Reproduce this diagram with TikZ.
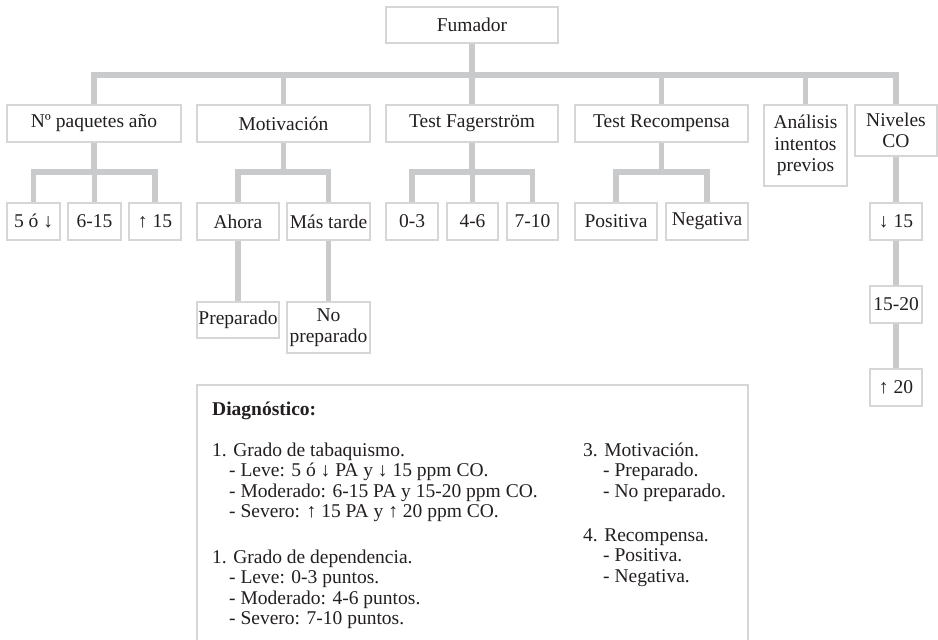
\documentclass[tikz,border=0pt]{standalone}
\usepackage{fontspec}
\setmainfont{Liberation Serif}
\definecolor{ink}{HTML}{231F20}
\definecolor{connline}{HTML}{C9CACB}
\definecolor{boxline}{HTML}{D6D6D6}
\newcommand\lblfont{\fontsize{19.5}{21.5}\selectfont}
\newcommand\diagfont{\fontsize{19.5}{20.5}\selectfont}
\pgfdeclarelayer{bg}
\pgfsetlayers{bg,main}
\tikzset{
  lbl/.style={draw=boxline, line width=1.2pt, fill=white, inner sep=0pt,
    align=center, font=\lblfont, text=ink},
  conn/.style={draw=connline, line width=5.5pt},
  dtext/.style={anchor=base west, inner sep=0pt, font=\diagfont, text=ink},
}
\begin{document}
\begin{tikzpicture}[x=1pt,y=-1pt]
\useasboundingbox (0,0) rectangle (938,640);

% root
\node[lbl, minimum width=172pt, minimum height=36pt] (fum) at (472,25) {Fumador};

% first level
\node[lbl, minimum width=174pt, minimum height=37pt] (paq) at (94,123.5) {Nº paquetes año};
\node[lbl, minimum width=173pt, minimum height=37pt] (mot) at (283.5,123.5) {Motivación};
\node[lbl, minimum width=172pt, minimum height=37pt] (fag) at (472,123.5) {Test Fagerström};
\node[lbl, minimum width=173pt, minimum height=37pt] (rec) at (661.5,123.5) {Test Recompensa};
\node[lbl, minimum width=83pt, minimum height=81pt] (ana) at (805.5,145.5) {Análisis\\intentos\\previos};
\node[lbl, minimum width=82pt, minimum height=51pt] (niv) at (896,130.5) {Niveles\\CO};

% second level
\node[lbl, minimum width=53pt, minimum height=37pt] (p1) at (33.5,221.5) {5 ó ↓};
\node[lbl, minimum width=53pt, minimum height=37pt] (p2) at (94.5,221.5) {6-15};
\node[lbl, minimum width=52pt, minimum height=37pt] (p3) at (155,221.5) {↑ 15};
\node[lbl, minimum width=82pt, minimum height=37pt] (ah) at (238,221.5) {Ahora};
\node[lbl, minimum width=83pt, minimum height=37pt] (mt) at (328.5,221.5) {Más tarde};
\node[lbl, minimum width=52pt, minimum height=37pt] (f1) at (412,221.5) {0-3};
\node[lbl, minimum width=51pt, minimum height=37pt] (f2) at (472.5,221.5) {4-6};
\node[lbl, minimum width=51pt, minimum height=37pt] (f3) at (532.5,221.5) {7-10};
\node[lbl, minimum width=82pt, minimum height=37pt] (pos) at (616,221.5) {Positiva};
\node[lbl, minimum width=82pt, minimum height=37pt] (neg) at (707,221.5) {Negativa};
\node[lbl, minimum width=52pt, minimum height=37pt] (c1) at (896,221.5) {↓ 15};
\node[lbl, minimum width=52pt, minimum height=37pt] (c2) at (896,304.5) {15-20};
\node[lbl, minimum width=52pt, minimum height=37pt] (c3) at (896,387.5) {↑ 20};

% third level
\node[lbl, minimum width=82pt, minimum height=36pt] (prep) at (238,320) {Preparado};
\node[lbl, minimum width=83pt, minimum height=51pt] (nop) at (328.5,327.5) {No\\preparado};

% connectors
\coordinate (busA) at (0,75);
\coordinate (busB) at (0,172);
\begin{pgfonlayer}{bg}
  \foreach \c in {paq,mot,fag,rec,ana,niv}
    \draw[conn] (fum.south) -- (fum.south |- busA) -| (\c.north);
  \foreach \c in {p1,p2,p3}
    \draw[conn] (paq.south) -- (paq.south |- busB) -| (\c.north);
  \foreach \c in {ah,mt}
    \draw[conn] (mot.south) -- (mot.south |- busB) -| (\c.north);
  \foreach \c in {f1,f2,f3}
    \draw[conn] (fag.south) -- (fag.south |- busB) -| (\c.north);
  \foreach \c in {pos,neg}
    \draw[conn] (rec.south) -- (rec.south |- busB) -| (\c.north);
  \draw[conn] (ah.south) -- (prep.north);
  \draw[conn] (mt.south) -- (nop.north);
  \draw[conn] (niv.south) -- (c1.north);
  \draw[conn] (c1.south) -- (c2.north);
  \draw[conn] (c2.south) -- (c3.north);
\end{pgfonlayer}

% diagnosis panel, open at the lower edge
\draw[boxline, line width=1.2pt] (197,650) -- (197,385) -- (748,385) -- (748,650);

\node[dtext] (dg) at (212,415) {\bfseries Diagnóstico:};

\node[dtext] (a0) at (212,456) {1. Grado de tabaquismo.};
\node[dtext] (a1) at (229,476.5) {- Leve: 5 ó ↓ PA y ↓ 15 ppm CO.};
\node[dtext] (a2) at (229,497) {- Moderado: 6-15 PA y 15-20 ppm CO.};
\node[dtext] (a3) at (229,517.5) {- Severo: ↑ 15 PA y ↑ 20 ppm CO.};

\node[dtext] (b0) at (212,563) {1. Grado de dependencia.};
\node[dtext] (b1) at (229,583.5) {- Leve: 0-3 puntos.};
\node[dtext] (b2) at (229,604) {- Moderado: 4-6 puntos.};
\node[dtext] (b3) at (229,624.5) {- Severo: 7-10 puntos.};

\node[dtext] (m0) at (583,456) {3. Motivación.};
\node[dtext] (m1) at (603,476.5) {- Preparado.};
\node[dtext] (m2) at (603,497) {- No preparado.};

\node[dtext] (r0) at (583,541) {4. Recompensa.};
\node[dtext] (r1) at (603,561.5) {- Positiva.};
\node[dtext] (r2) at (603,582) {- Negativa.};
\end{tikzpicture}
\end{document}
